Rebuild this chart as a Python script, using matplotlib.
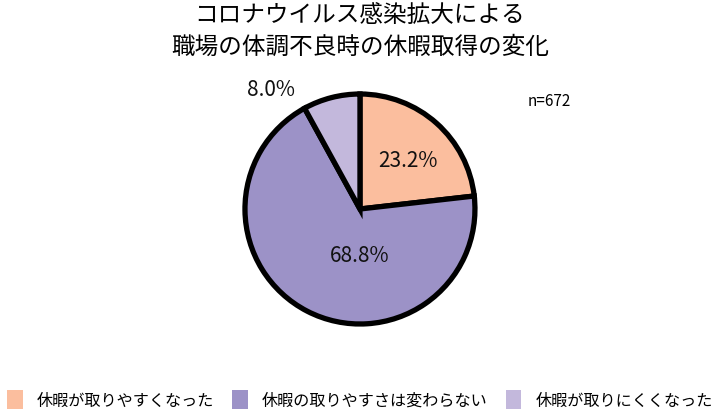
import matplotlib
matplotlib.use("Agg")
import matplotlib.pyplot as plt
from matplotlib.patches import Patch

plt.rcParams["font.family"] = ["Noto Sans CJK JP", "DejaVu Sans"]

# data
categories = ["休暇が取りやすくなった", "休暇の取りやすさは変わらない", "休暇が取りにくくなった"]
shares = [23.2, 68.8, 8.0]
colors = ["#FBBE9E", "#9C92C7", "#C3B8DC"]
title = "コロナウイルス感染拡大による\n職場の体調不良時の休暇取得の変化"
n_label = "n=672"

fig = plt.figure(figsize=(7.2, 4.1), dpi=100)
ax = fig.add_axes([0.3083, 0.1512, 0.3833, 0.6732])

wedges, _ = ax.pie(shares, colors=colors, startangle=90, counterclock=False,
                   radius=1.0,
                   wedgeprops=dict(edgecolor="black", linewidth=3.8))
ax.set_xlim(-1.2, 1.2)
ax.set_ylim(-1.2, 1.2)
ax.set_aspect("equal")
ax.axis("off")

# percentage labels (placed like the original)
label_pos = [(0.42, 0.43), (0.0, -0.40), (-0.77, 1.04)]
for (x, y), v in zip(label_pos, shares):
    ax.text(x, y, f"{v:.1f}%", ha="center", va="center", fontsize=15,
            color="#111111", clip_on=False)

fig.text(0.733, 0.752, n_label, ha="left", va="center", fontsize=11)

fig.suptitle(title, x=0.5, y=0.99, fontsize=17, linespacing=1.5,
             va="top")

handles = [Patch(facecolor=c, edgecolor="none") for c in colors]
fig.legend(handles, categories, loc="lower center", bbox_to_anchor=(0.5, -0.035),
           ncol=3, frameon=False, fontsize=11.6, handlelength=0.95,
           handleheight=1.35, handletextpad=0.9, columnspacing=1.1)

plt.savefig("out.png", dpi=100)
plt.close()
